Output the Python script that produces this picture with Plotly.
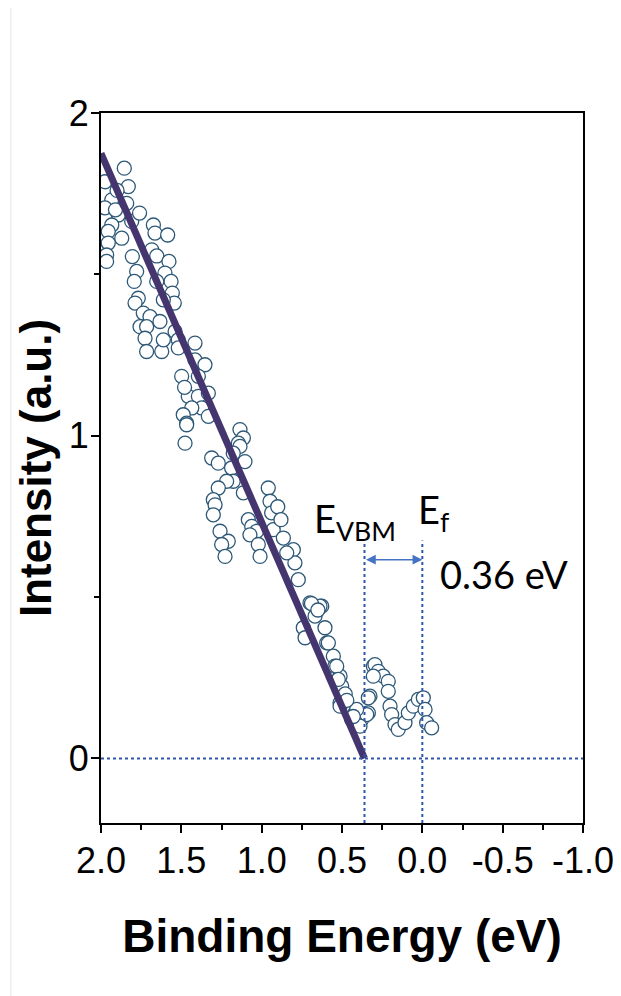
import plotly.graph_objects as go

# Measured points (binding energy in eV, intensity in a.u.)
be = [1.855, 1.830, 1.975, 1.933, 1.892, 1.975, 1.809, 1.933, 1.955, 1.871,
      1.955, 1.965, 1.965, 1.674, 1.664, 1.585, 1.684, 1.653, 1.577, 1.805,
      1.778, 1.793, 1.602, 1.564, 1.653, 1.556, 1.544, 1.612, 1.768, 1.788,
      1.737, 1.695, 1.633, 1.757, 1.716, 1.726, 1.716, 1.622, 1.612, 1.539,
      1.519, 1.519, 1.415, 1.415, 1.353, 1.394, 1.498, 1.457, 1.394, 1.332,
      1.373, 1.435, 1.488, 1.467, 1.332, 1.477, 1.135, 1.114, 1.145, 1.467,
      1.135, 1.104, 1.177, 1.311, 1.270, 1.187, 1.177, 1.218, 1.270, 1.114,
      0.959, 0.948, 0.938, 1.301, 1.290, 1.301, 1.083, 1.062, 1.031, 1.073,
      1.021, 1.010, 0.928, 0.865, 0.803, 0.793, 0.844, 1.259, 1.208, 1.249,
      1.228, 0.772, 0.699, 0.626, 0.668, 0.606, 0.741, 0.730, 0.595, 0.554,
      0.544, 0.512, 0.502, 0.512, 0.461, 0.419, 0.377, 0.326, 0.336, 0.305,
      0.295, 0.274, 0.243, 0.212, 0.305, 0.212, 0.201, 0.191, 0.170, 0.150,
      0.108, 0.087, 0.056, 0.025, -0.006, -0.017, -0.027, -0.058, 0.336, 0.346,
      0.409, 0.440, 0.388, 0.512, 0.585, 0.637, 0.533, 0.523, 1.900, 1.910,
      1.840, 1.760, 1.480, 0.900, 0.880, 0.690, 0.650, 0.480, 0.470, 0.430]
intensity = [1.829, 1.772, 1.787, 1.731, 1.684, 1.706, 1.664, 1.653, 1.633, 1.612,
             1.597, 1.560, 1.540, 1.653, 1.628, 1.622, 1.576, 1.557, 1.540, 1.555,
             1.509, 1.478, 1.504, 1.478, 1.478, 1.442, 1.411, 1.421, 1.426, 1.411,
             1.380, 1.369, 1.354, 1.338, 1.338, 1.302, 1.261, 1.261, 1.297, 1.323,
             1.297, 1.272, 1.287, 1.235, 1.220, 1.184, 1.184, 1.122, 1.122, 1.132,
             1.086, 1.086, 1.065, 1.039, 1.060, 0.977, 1.019, 0.993, 0.977, 1.034,
             0.967, 0.920, 0.946, 0.931, 0.915, 0.900, 0.859, 0.859, 0.838, 0.823,
             0.838, 0.797, 0.761, 0.802, 0.786, 0.755, 0.740, 0.719, 0.704, 0.693,
             0.663, 0.626, 0.709, 0.683, 0.647, 0.606, 0.637, 0.704, 0.673, 0.663,
             0.626, 0.554, 0.482, 0.472, 0.441, 0.405, 0.405, 0.374, 0.358, 0.317,
             0.286, 0.255, 0.224, 0.172, 0.157, 0.141, 0.121, 0.193, 0.141, 0.286,
             0.291, 0.270, 0.255, 0.239, 0.255, 0.208, 0.162, 0.136, 0.105, 0.090,
             0.111, 0.141, 0.162, 0.183, 0.188, 0.152, 0.111, 0.095, 0.188, 0.136,
             0.152, 0.121, 0.100, 0.162, 0.358, 0.472, 0.286, 0.245, 1.760, 1.700,
             1.720, 1.690, 1.150, 0.780, 0.740, 0.480, 0.460, 0.200, 0.180, 0.130]

# Linear fit to the leading edge
fit_x = [2.0, 0.36]
fit_y = [1.875, 0.0]

e_vbm = 0.36
e_f = 0.0
guide_top = 0.675
arrow_y = 0.616
x_ticks = [2.0, 1.5, 1.0, 0.5, 0.0, -0.5, -1.0]
x_tick_text = ["2.0", "1.5", "1.0", "0.5", "0.0", "-0.5", "-1.0"]
y_ticks = [0, 1, 2]

fig = go.Figure()
fig.add_trace(go.Scatter(
    x=be, y=intensity, mode="markers",
    marker=dict(symbol="circle", size=14, color="white",
                line=dict(color="#2d5877", width=1.3)),
    showlegend=False))
fig.add_trace(go.Scatter(
    x=fit_x, y=fit_y, mode="lines",
    line=dict(color="#45356f", width=7), showlegend=False))

dot = dict(color="#2f56a8", width=2, dash="dot")
fig.add_shape(type="line", x0=2.0, x1=-1.0, y0=0, y1=0, xref="x", yref="y", line=dot)
fig.add_shape(type="line", x0=e_vbm, x1=e_vbm, y0=-0.2, y1=guide_top, xref="x", yref="y", line=dot)
fig.add_shape(type="line", x0=e_f, x1=e_f, y0=-0.2, y1=guide_top, xref="x", yref="y", line=dot)
# faint page edge on the left
fig.add_shape(type="line", xref="paper", yref="paper", x0=-0.187, x1=-0.187,
              y0=-0.25, y1=1.16, line=dict(color="#e6e6e6", width=1))

fig.add_annotation(x=e_f, y=arrow_y, ax=e_vbm, ay=arrow_y, xref="x", yref="y",
                   axref="x", ayref="y", showarrow=True, arrowhead=2, arrowside="end+start",
                   arrowsize=1.3, arrowwidth=1.5, arrowcolor="#4472c4", text="")

ann_font = dict(family="Lato, Open Sans, sans-serif", size=38, color="black")
fig.add_annotation(x=0.42, y=0.735, xref="x", yref="y", text="E<sub>VBM</sub>",
                   showarrow=False, font=ann_font)
fig.add_annotation(x=-0.075, y=0.765, xref="x", yref="y", text="E<sub>f</sub>",
                   showarrow=False, font=ann_font)
fig.add_annotation(x=-0.51, y=0.572, xref="x", yref="y", text="0.36 eV",
                   showarrow=False, font=ann_font)

axis_common = dict(showline=True, linecolor="black", linewidth=2, mirror=True,
                   ticks="outside", ticklen=8, tickwidth=1.5, tickcolor="black",
                   showgrid=False, zeroline=False,
                   tickfont=dict(family="Liberation Sans, Arial, sans-serif", size=36, color="black"))
fig.update_xaxes(range=[2.0, -1.0], tickvals=x_ticks, ticktext=x_tick_text,
                 ticklabelstandoff=-3,
                 minor=dict(ticks="outside", ticklen=5, tickwidth=1.5, tickcolor="black", dtick=0.25),
                 title=dict(text="<b>Binding Energy (eV)</b>", standoff=40,
                            font=dict(family="Liberation Sans, Arial, sans-serif", size=46, color="black")),
                 **axis_common)
fig.update_yaxes(range=[-0.2, 2.0], tickvals=y_ticks, ticklabelstandoff=-5,
                 minor=dict(ticks="outside", ticklen=5, tickwidth=1.5, tickcolor="black", dtick=0.5),
                 title=dict(text="<b>Intensity (a.u.)</b>", standoff=3,
                            font=dict(family="Liberation Sans, Arial, sans-serif", size=44, color="black")),
                 **axis_common)
fig.update_layout(width=621, height=996, margin=dict(l=93, r=46, t=105, b=181),
                  plot_bgcolor="white", paper_bgcolor="white")
fig.write_html("out.html")
